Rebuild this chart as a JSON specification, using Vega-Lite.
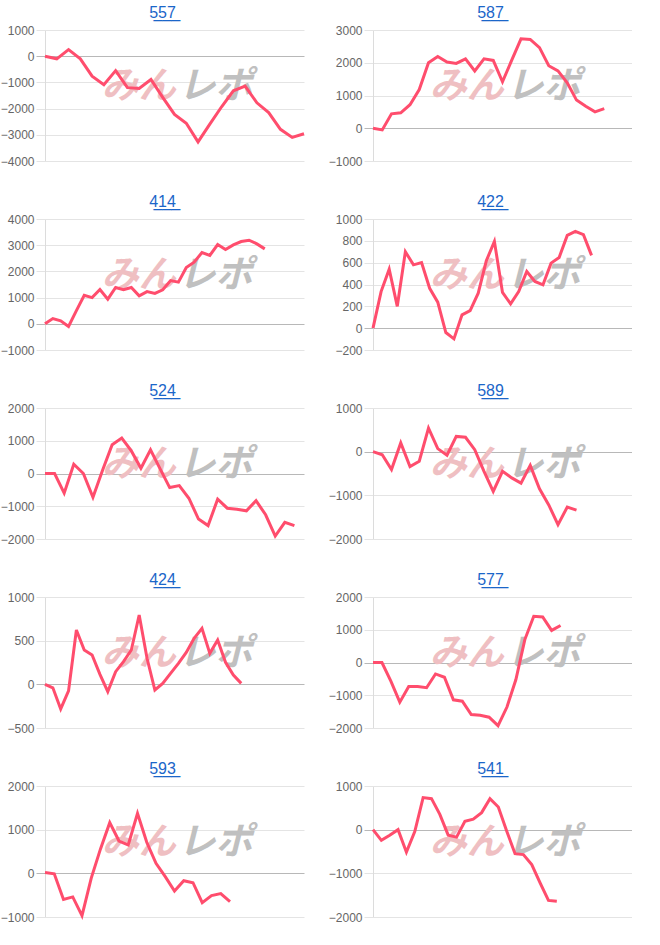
{
  "$schema": "https://vega.github.io/schema/vega-lite/v6.json",
  "padding": {"left": 0, "top": 5, "right": 0, "bottom": 0},
  "background": "white",
  "datasets": {
    "c557": [{"i":0,"v":0},{"i":1,"v":-100},{"i":2,"v":250},{"i":3,"v":-100},{"i":4,"v":-760},{"i":5,"v":-1090},{"i":6,"v":-550},{"i":7,"v":-1200},{"i":8,"v":-1230},{"i":9,"v":-890},{"i":10,"v":-1570},{"i":11,"v":-2220},{"i":12,"v":-2560},{"i":13,"v":-3270},{"i":14,"v":-2590},{"i":15,"v":-1930},{"i":16,"v":-1320},{"i":17,"v":-1140},{"i":18,"v":-1780},{"i":19,"v":-2150},{"i":20,"v":-2790},{"i":21,"v":-3100},{"i":22,"v":-2960}],
    "c587": [{"i":0,"v":0},{"i":1,"v":-50},{"i":2,"v":440},{"i":3,"v":470},{"i":4,"v":720},{"i":5,"v":1180},{"i":6,"v":2000},{"i":7,"v":2190},{"i":8,"v":2020},{"i":9,"v":1980},{"i":10,"v":2120},{"i":11,"v":1750},{"i":12,"v":2120},{"i":13,"v":2070},{"i":14,"v":1420},{"i":15,"v":2080},{"i":16,"v":2730},{"i":17,"v":2710},{"i":18,"v":2460},{"i":19,"v":1910},{"i":20,"v":1750},{"i":21,"v":1390},{"i":22,"v":860},{"i":23,"v":670},{"i":24,"v":500},{"i":25,"v":600}],
    "c414": [{"i":0,"v":0},{"i":1,"v":200},{"i":2,"v":115},{"i":3,"v":-100},{"i":4,"v":500},{"i":5,"v":1090},{"i":6,"v":1000},{"i":7,"v":1310},{"i":8,"v":940},{"i":9,"v":1385},{"i":10,"v":1300},{"i":11,"v":1385},{"i":12,"v":1070},{"i":13,"v":1230},{"i":14,"v":1160},{"i":15,"v":1300},{"i":16,"v":1650},{"i":17,"v":1590},{"i":18,"v":2150},{"i":19,"v":2350},{"i":20,"v":2720},{"i":21,"v":2610},{"i":22,"v":3025},{"i":23,"v":2835},{"i":24,"v":3010},{"i":25,"v":3140},{"i":26,"v":3190},{"i":27,"v":3050},{"i":28,"v":2860}],
    "c422": [{"i":0,"v":0},{"i":1,"v":335},{"i":2,"v":540},{"i":3,"v":200},{"i":4,"v":700},{"i":5,"v":580},{"i":6,"v":600},{"i":7,"v":365},{"i":8,"v":238},{"i":9,"v":-40},{"i":10,"v":-98},{"i":11,"v":122},{"i":12,"v":160},{"i":13,"v":320},{"i":14,"v":617},{"i":15,"v":795},{"i":16,"v":327},{"i":17,"v":223},{"i":18,"v":336},{"i":19,"v":519},{"i":20,"v":428},{"i":21,"v":397},{"i":22,"v":596},{"i":23,"v":648},{"i":24,"v":850},{"i":25,"v":887},{"i":26,"v":857},{"i":27,"v":667}],
    "c524": [{"i":0,"v":0},{"i":1,"v":0},{"i":2,"v":-600},{"i":3,"v":285},{"i":4,"v":0},{"i":5,"v":-725},{"i":6,"v":100},{"i":7,"v":880},{"i":8,"v":1080},{"i":9,"v":690},{"i":10,"v":160},{"i":11,"v":725},{"i":12,"v":140},{"i":13,"v":-430},{"i":14,"v":-370},{"i":15,"v":-755},{"i":16,"v":-1390},{"i":17,"v":-1590},{"i":18,"v":-785},{"i":19,"v":-1060},{"i":20,"v":-1090},{"i":21,"v":-1140},{"i":22,"v":-830},{"i":23,"v":-1260},{"i":24,"v":-1910},{"i":25,"v":-1490},{"i":26,"v":-1590}],
    "c589": [{"i":0,"v":0},{"i":1,"v":-70},{"i":2,"v":-410},{"i":3,"v":200},{"i":4,"v":-340},{"i":5,"v":-220},{"i":6,"v":540},{"i":7,"v":70},{"i":8,"v":-80},{"i":9,"v":350},{"i":10,"v":330},{"i":11,"v":45},{"i":12,"v":-450},{"i":13,"v":-910},{"i":14,"v":-450},{"i":15,"v":-600},{"i":16,"v":-720},{"i":17,"v":-315},{"i":18,"v":-850},{"i":19,"v":-1220},{"i":20,"v":-1670},{"i":21,"v":-1270},{"i":22,"v":-1340}],
    "c424": [{"i":0,"v":0},{"i":1,"v":-40},{"i":2,"v":-282},{"i":3,"v":-76},{"i":4,"v":622},{"i":5,"v":393},{"i":6,"v":336},{"i":7,"v":115},{"i":8,"v":-84},{"i":9,"v":145},{"i":10,"v":260},{"i":11,"v":393},{"i":12,"v":794},{"i":13,"v":298},{"i":14,"v":-65},{"i":15,"v":11},{"i":16,"v":126},{"i":17,"v":240},{"i":18,"v":366},{"i":19,"v":527},{"i":20,"v":641},{"i":21,"v":355},{"i":22,"v":508},{"i":23,"v":252},{"i":24,"v":107},{"i":25,"v":11}],
    "c577": [{"i":0,"v":0},{"i":1,"v":0},{"i":2,"v":-570},{"i":3,"v":-1210},{"i":4,"v":-730},{"i":5,"v":-730},{"i":6,"v":-770},{"i":7,"v":-350},{"i":8,"v":-450},{"i":9,"v":-1140},{"i":10,"v":-1180},{"i":11,"v":-1590},{"i":12,"v":-1610},{"i":13,"v":-1670},{"i":14,"v":-1930},{"i":15,"v":-1360},{"i":16,"v":-520},{"i":17,"v":700},{"i":18,"v":1410},{"i":19,"v":1390},{"i":20,"v":980},{"i":21,"v":1130}],
    "c593": [{"i":0,"v":20},{"i":1,"v":-10},{"i":2,"v":-600},{"i":3,"v":-540},{"i":4,"v":-970},{"i":5,"v":-110},{"i":6,"v":560},{"i":7,"v":1160},{"i":8,"v":740},{"i":9,"v":650},{"i":10,"v":1375},{"i":11,"v":710},{"i":12,"v":230},{"i":13,"v":-75},{"i":14,"v":-405},{"i":15,"v":-170},{"i":16,"v":-215},{"i":17,"v":-670},{"i":18,"v":-510},{"i":19,"v":-465},{"i":20,"v":-650}],
    "c541": [{"i":0,"v":0},{"i":1,"v":-245},{"i":2,"v":-130},{"i":3,"v":0},{"i":4,"v":-515},{"i":5,"v":-45},{"i":6,"v":735},{"i":7,"v":710},{"i":8,"v":350},{"i":9,"v":-125},{"i":10,"v":-170},{"i":11,"v":190},{"i":12,"v":240},{"i":13,"v":390},{"i":14,"v":710},{"i":15,"v":520},{"i":16,"v":-30},{"i":17,"v":-550},{"i":18,"v":-570},{"i":19,"v":-800},{"i":20,"v":-1220},{"i":21,"v":-1620},{"i":22,"v":-1640}],
    "wm": [{}]
  },
  "columns": 2,
  "spacing": {"row": 27, "column": 18},
  "concat": [
    {"title": "5\u03325\u03327\u0332", "width": 259, "height": 131, "resolve": {"scale": {"x": "independent", "y": "independent"}},
     "layer": [
      {"data": {"name": "wm"}, "mark": {"type": "text", "text": "みん", "align": "right", "baseline": "middle", "font": "Noto Sans CJK JP", "fontSize": 37, "fontWeight": "bold", "fontStyle": "italic", "color": "#efbfc2"}, "encoding": {"x": {"datum": 0.505, "type": "quantitative", "scale": {"domain": [0, 1]}, "axis": null}, "y": {"datum": 0.565, "type": "quantitative", "scale": {"domain": [0, 1]}, "axis": null}}},
      {"data": {"name": "wm"}, "mark": {"type": "text", "text": "レポ", "align": "left", "baseline": "middle", "font": "Noto Sans CJK JP", "fontSize": 37, "fontWeight": "bold", "fontStyle": "italic", "color": "#c0c0c0"}, "encoding": {"x": {"datum": 0.515, "type": "quantitative", "scale": {"domain": [0, 1]}, "axis": null}, "y": {"datum": 0.565, "type": "quantitative", "scale": {"domain": [0, 1]}, "axis": null}}},
      {"data": {"name": "c557"}, "mark": {"type": "line", "color": "#ff4d6d", "strokeWidth": 3}, "encoding": {"x": {"field": "i", "type": "quantitative", "scale": {"domain": [0, 22]}, "axis": null}, "y": {"field": "v", "type": "quantitative", "scale": {"domain": [-4000, 1000], "nice": false}, "axis": {"values": [-4000, -3000, -2000, -1000, 0, 1000], "format": "d", "grid": true, "gridColor": {"condition": {"test": "datum.value === 0", "value": "#b8b8b8"}, "value": "#e4e4e4"}, "tickColor": {"condition": {"test": "datum.value === 0", "value": "#b8b8b8"}, "value": "#e4e4e4"}}}}}
     ]},
    {"title": "5\u03328\u03327\u0332", "width": 259, "height": 131, "resolve": {"scale": {"x": "independent", "y": "independent"}},
     "layer": [
      {"data": {"name": "wm"}, "mark": {"type": "text", "text": "みん", "align": "right", "baseline": "middle", "font": "Noto Sans CJK JP", "fontSize": 37, "fontWeight": "bold", "fontStyle": "italic", "color": "#efbfc2"}, "encoding": {"x": {"datum": 0.505, "type": "quantitative", "scale": {"domain": [0, 1]}, "axis": null}, "y": {"datum": 0.565, "type": "quantitative", "scale": {"domain": [0, 1]}, "axis": null}}},
      {"data": {"name": "wm"}, "mark": {"type": "text", "text": "レポ", "align": "left", "baseline": "middle", "font": "Noto Sans CJK JP", "fontSize": 37, "fontWeight": "bold", "fontStyle": "italic", "color": "#c0c0c0"}, "encoding": {"x": {"datum": 0.515, "type": "quantitative", "scale": {"domain": [0, 1]}, "axis": null}, "y": {"datum": 0.565, "type": "quantitative", "scale": {"domain": [0, 1]}, "axis": null}}},
      {"data": {"name": "c587"}, "mark": {"type": "line", "color": "#ff4d6d", "strokeWidth": 3}, "encoding": {"x": {"field": "i", "type": "quantitative", "scale": {"domain": [0, 28]}, "axis": null}, "y": {"field": "v", "type": "quantitative", "scale": {"domain": [-1000, 3000], "nice": false}, "axis": {"values": [-1000, 0, 1000, 2000, 3000], "format": "d", "grid": true, "gridColor": {"condition": {"test": "datum.value === 0", "value": "#b8b8b8"}, "value": "#e4e4e4"}, "tickColor": {"condition": {"test": "datum.value === 0", "value": "#b8b8b8"}, "value": "#e4e4e4"}}}}}
     ]},
    {"title": "4\u03321\u03324\u0332", "width": 259, "height": 131, "resolve": {"scale": {"x": "independent", "y": "independent"}},
     "layer": [
      {"data": {"name": "wm"}, "mark": {"type": "text", "text": "みん", "align": "right", "baseline": "middle", "font": "Noto Sans CJK JP", "fontSize": 37, "fontWeight": "bold", "fontStyle": "italic", "color": "#efbfc2"}, "encoding": {"x": {"datum": 0.505, "type": "quantitative", "scale": {"domain": [0, 1]}, "axis": null}, "y": {"datum": 0.565, "type": "quantitative", "scale": {"domain": [0, 1]}, "axis": null}}},
      {"data": {"name": "wm"}, "mark": {"type": "text", "text": "レポ", "align": "left", "baseline": "middle", "font": "Noto Sans CJK JP", "fontSize": 37, "fontWeight": "bold", "fontStyle": "italic", "color": "#c0c0c0"}, "encoding": {"x": {"datum": 0.515, "type": "quantitative", "scale": {"domain": [0, 1]}, "axis": null}, "y": {"datum": 0.565, "type": "quantitative", "scale": {"domain": [0, 1]}, "axis": null}}},
      {"data": {"name": "c414"}, "mark": {"type": "line", "color": "#ff4d6d", "strokeWidth": 3}, "encoding": {"x": {"field": "i", "type": "quantitative", "scale": {"domain": [0, 33]}, "axis": null}, "y": {"field": "v", "type": "quantitative", "scale": {"domain": [-1000, 4000], "nice": false}, "axis": {"values": [-1000, 0, 1000, 2000, 3000, 4000], "format": "d", "grid": true, "gridColor": {"condition": {"test": "datum.value === 0", "value": "#b8b8b8"}, "value": "#e4e4e4"}, "tickColor": {"condition": {"test": "datum.value === 0", "value": "#b8b8b8"}, "value": "#e4e4e4"}}}}}
     ]},
    {"title": "4\u03322\u03322\u0332", "width": 259, "height": 131, "resolve": {"scale": {"x": "independent", "y": "independent"}},
     "layer": [
      {"data": {"name": "wm"}, "mark": {"type": "text", "text": "みん", "align": "right", "baseline": "middle", "font": "Noto Sans CJK JP", "fontSize": 37, "fontWeight": "bold", "fontStyle": "italic", "color": "#efbfc2"}, "encoding": {"x": {"datum": 0.505, "type": "quantitative", "scale": {"domain": [0, 1]}, "axis": null}, "y": {"datum": 0.565, "type": "quantitative", "scale": {"domain": [0, 1]}, "axis": null}}},
      {"data": {"name": "wm"}, "mark": {"type": "text", "text": "レポ", "align": "left", "baseline": "middle", "font": "Noto Sans CJK JP", "fontSize": 37, "fontWeight": "bold", "fontStyle": "italic", "color": "#c0c0c0"}, "encoding": {"x": {"datum": 0.515, "type": "quantitative", "scale": {"domain": [0, 1]}, "axis": null}, "y": {"datum": 0.565, "type": "quantitative", "scale": {"domain": [0, 1]}, "axis": null}}},
      {"data": {"name": "c422"}, "mark": {"type": "line", "color": "#ff4d6d", "strokeWidth": 3}, "encoding": {"x": {"field": "i", "type": "quantitative", "scale": {"domain": [0, 32]}, "axis": null}, "y": {"field": "v", "type": "quantitative", "scale": {"domain": [-200, 1000], "nice": false}, "axis": {"values": [-200, 0, 200, 400, 600, 800, 1000], "format": "d", "grid": true, "gridColor": {"condition": {"test": "datum.value === 0", "value": "#b8b8b8"}, "value": "#e4e4e4"}, "tickColor": {"condition": {"test": "datum.value === 0", "value": "#b8b8b8"}, "value": "#e4e4e4"}}}}}
     ]},
    {"title": "5\u03322\u03324\u0332", "width": 259, "height": 131, "resolve": {"scale": {"x": "independent", "y": "independent"}},
     "layer": [
      {"data": {"name": "wm"}, "mark": {"type": "text", "text": "みん", "align": "right", "baseline": "middle", "font": "Noto Sans CJK JP", "fontSize": 37, "fontWeight": "bold", "fontStyle": "italic", "color": "#efbfc2"}, "encoding": {"x": {"datum": 0.505, "type": "quantitative", "scale": {"domain": [0, 1]}, "axis": null}, "y": {"datum": 0.565, "type": "quantitative", "scale": {"domain": [0, 1]}, "axis": null}}},
      {"data": {"name": "wm"}, "mark": {"type": "text", "text": "レポ", "align": "left", "baseline": "middle", "font": "Noto Sans CJK JP", "fontSize": 37, "fontWeight": "bold", "fontStyle": "italic", "color": "#c0c0c0"}, "encoding": {"x": {"datum": 0.515, "type": "quantitative", "scale": {"domain": [0, 1]}, "axis": null}, "y": {"datum": 0.565, "type": "quantitative", "scale": {"domain": [0, 1]}, "axis": null}}},
      {"data": {"name": "c524"}, "mark": {"type": "line", "color": "#ff4d6d", "strokeWidth": 3}, "encoding": {"x": {"field": "i", "type": "quantitative", "scale": {"domain": [0, 27]}, "axis": null}, "y": {"field": "v", "type": "quantitative", "scale": {"domain": [-2000, 2000], "nice": false}, "axis": {"values": [-2000, -1000, 0, 1000, 2000], "format": "d", "grid": true, "gridColor": {"condition": {"test": "datum.value === 0", "value": "#b8b8b8"}, "value": "#e4e4e4"}, "tickColor": {"condition": {"test": "datum.value === 0", "value": "#b8b8b8"}, "value": "#e4e4e4"}}}}}
     ]},
    {"title": "5\u03328\u03329\u0332", "width": 259, "height": 131, "resolve": {"scale": {"x": "independent", "y": "independent"}},
     "layer": [
      {"data": {"name": "wm"}, "mark": {"type": "text", "text": "みん", "align": "right", "baseline": "middle", "font": "Noto Sans CJK JP", "fontSize": 37, "fontWeight": "bold", "fontStyle": "italic", "color": "#efbfc2"}, "encoding": {"x": {"datum": 0.505, "type": "quantitative", "scale": {"domain": [0, 1]}, "axis": null}, "y": {"datum": 0.565, "type": "quantitative", "scale": {"domain": [0, 1]}, "axis": null}}},
      {"data": {"name": "wm"}, "mark": {"type": "text", "text": "レポ", "align": "left", "baseline": "middle", "font": "Noto Sans CJK JP", "fontSize": 37, "fontWeight": "bold", "fontStyle": "italic", "color": "#c0c0c0"}, "encoding": {"x": {"datum": 0.515, "type": "quantitative", "scale": {"domain": [0, 1]}, "axis": null}, "y": {"datum": 0.565, "type": "quantitative", "scale": {"domain": [0, 1]}, "axis": null}}},
      {"data": {"name": "c589"}, "mark": {"type": "line", "color": "#ff4d6d", "strokeWidth": 3}, "encoding": {"x": {"field": "i", "type": "quantitative", "scale": {"domain": [0, 28]}, "axis": null}, "y": {"field": "v", "type": "quantitative", "scale": {"domain": [-2000, 1000], "nice": false}, "axis": {"values": [-2000, -1000, 0, 1000], "format": "d", "grid": true, "gridColor": {"condition": {"test": "datum.value === 0", "value": "#b8b8b8"}, "value": "#e4e4e4"}, "tickColor": {"condition": {"test": "datum.value === 0", "value": "#b8b8b8"}, "value": "#e4e4e4"}}}}}
     ]},
    {"title": "4\u03322\u03324\u0332", "width": 259, "height": 131, "resolve": {"scale": {"x": "independent", "y": "independent"}},
     "layer": [
      {"data": {"name": "wm"}, "mark": {"type": "text", "text": "みん", "align": "right", "baseline": "middle", "font": "Noto Sans CJK JP", "fontSize": 37, "fontWeight": "bold", "fontStyle": "italic", "color": "#efbfc2"}, "encoding": {"x": {"datum": 0.505, "type": "quantitative", "scale": {"domain": [0, 1]}, "axis": null}, "y": {"datum": 0.565, "type": "quantitative", "scale": {"domain": [0, 1]}, "axis": null}}},
      {"data": {"name": "wm"}, "mark": {"type": "text", "text": "レポ", "align": "left", "baseline": "middle", "font": "Noto Sans CJK JP", "fontSize": 37, "fontWeight": "bold", "fontStyle": "italic", "color": "#c0c0c0"}, "encoding": {"x": {"datum": 0.515, "type": "quantitative", "scale": {"domain": [0, 1]}, "axis": null}, "y": {"datum": 0.565, "type": "quantitative", "scale": {"domain": [0, 1]}, "axis": null}}},
      {"data": {"name": "c424"}, "mark": {"type": "line", "color": "#ff4d6d", "strokeWidth": 3}, "encoding": {"x": {"field": "i", "type": "quantitative", "scale": {"domain": [0, 33]}, "axis": null}, "y": {"field": "v", "type": "quantitative", "scale": {"domain": [-500, 1000], "nice": false}, "axis": {"values": [-500, 0, 500, 1000], "format": "d", "grid": true, "gridColor": {"condition": {"test": "datum.value === 0", "value": "#b8b8b8"}, "value": "#e4e4e4"}, "tickColor": {"condition": {"test": "datum.value === 0", "value": "#b8b8b8"}, "value": "#e4e4e4"}}}}}
     ]},
    {"title": "5\u03327\u03327\u0332", "width": 259, "height": 131, "resolve": {"scale": {"x": "independent", "y": "independent"}},
     "layer": [
      {"data": {"name": "wm"}, "mark": {"type": "text", "text": "みん", "align": "right", "baseline": "middle", "font": "Noto Sans CJK JP", "fontSize": 37, "fontWeight": "bold", "fontStyle": "italic", "color": "#efbfc2"}, "encoding": {"x": {"datum": 0.505, "type": "quantitative", "scale": {"domain": [0, 1]}, "axis": null}, "y": {"datum": 0.565, "type": "quantitative", "scale": {"domain": [0, 1]}, "axis": null}}},
      {"data": {"name": "wm"}, "mark": {"type": "text", "text": "レポ", "align": "left", "baseline": "middle", "font": "Noto Sans CJK JP", "fontSize": 37, "fontWeight": "bold", "fontStyle": "italic", "color": "#c0c0c0"}, "encoding": {"x": {"datum": 0.515, "type": "quantitative", "scale": {"domain": [0, 1]}, "axis": null}, "y": {"datum": 0.565, "type": "quantitative", "scale": {"domain": [0, 1]}, "axis": null}}},
      {"data": {"name": "c577"}, "mark": {"type": "line", "color": "#ff4d6d", "strokeWidth": 3}, "encoding": {"x": {"field": "i", "type": "quantitative", "scale": {"domain": [0, 29]}, "axis": null}, "y": {"field": "v", "type": "quantitative", "scale": {"domain": [-2000, 2000], "nice": false}, "axis": {"values": [-2000, -1000, 0, 1000, 2000], "format": "d", "grid": true, "gridColor": {"condition": {"test": "datum.value === 0", "value": "#b8b8b8"}, "value": "#e4e4e4"}, "tickColor": {"condition": {"test": "datum.value === 0", "value": "#b8b8b8"}, "value": "#e4e4e4"}}}}}
     ]},
    {"title": "5\u03329\u03323\u0332", "width": 259, "height": 131, "resolve": {"scale": {"x": "independent", "y": "independent"}},
     "layer": [
      {"data": {"name": "wm"}, "mark": {"type": "text", "text": "みん", "align": "right", "baseline": "middle", "font": "Noto Sans CJK JP", "fontSize": 37, "fontWeight": "bold", "fontStyle": "italic", "color": "#efbfc2"}, "encoding": {"x": {"datum": 0.505, "type": "quantitative", "scale": {"domain": [0, 1]}, "axis": null}, "y": {"datum": 0.565, "type": "quantitative", "scale": {"domain": [0, 1]}, "axis": null}}},
      {"data": {"name": "wm"}, "mark": {"type": "text", "text": "レポ", "align": "left", "baseline": "middle", "font": "Noto Sans CJK JP", "fontSize": 37, "fontWeight": "bold", "fontStyle": "italic", "color": "#c0c0c0"}, "encoding": {"x": {"datum": 0.515, "type": "quantitative", "scale": {"domain": [0, 1]}, "axis": null}, "y": {"datum": 0.565, "type": "quantitative", "scale": {"domain": [0, 1]}, "axis": null}}},
      {"data": {"name": "c593"}, "mark": {"type": "line", "color": "#ff4d6d", "strokeWidth": 3}, "encoding": {"x": {"field": "i", "type": "quantitative", "scale": {"domain": [0, 28]}, "axis": null}, "y": {"field": "v", "type": "quantitative", "scale": {"domain": [-1000, 2000], "nice": false}, "axis": {"values": [-1000, 0, 1000, 2000], "format": "d", "grid": true, "gridColor": {"condition": {"test": "datum.value === 0", "value": "#b8b8b8"}, "value": "#e4e4e4"}, "tickColor": {"condition": {"test": "datum.value === 0", "value": "#b8b8b8"}, "value": "#e4e4e4"}}}}}
     ]},
    {"title": "5\u03324\u03321\u0332", "width": 259, "height": 131, "resolve": {"scale": {"x": "independent", "y": "independent"}},
     "layer": [
      {"data": {"name": "wm"}, "mark": {"type": "text", "text": "みん", "align": "right", "baseline": "middle", "font": "Noto Sans CJK JP", "fontSize": 37, "fontWeight": "bold", "fontStyle": "italic", "color": "#efbfc2"}, "encoding": {"x": {"datum": 0.505, "type": "quantitative", "scale": {"domain": [0, 1]}, "axis": null}, "y": {"datum": 0.565, "type": "quantitative", "scale": {"domain": [0, 1]}, "axis": null}}},
      {"data": {"name": "wm"}, "mark": {"type": "text", "text": "レポ", "align": "left", "baseline": "middle", "font": "Noto Sans CJK JP", "fontSize": 37, "fontWeight": "bold", "fontStyle": "italic", "color": "#c0c0c0"}, "encoding": {"x": {"datum": 0.515, "type": "quantitative", "scale": {"domain": [0, 1]}, "axis": null}, "y": {"datum": 0.565, "type": "quantitative", "scale": {"domain": [0, 1]}, "axis": null}}},
      {"data": {"name": "c541"}, "mark": {"type": "line", "color": "#ff4d6d", "strokeWidth": 3}, "encoding": {"x": {"field": "i", "type": "quantitative", "scale": {"domain": [0, 31]}, "axis": null}, "y": {"field": "v", "type": "quantitative", "scale": {"domain": [-2000, 1000], "nice": false}, "axis": {"values": [-2000, -1000, 0, 1000], "format": "d", "grid": true, "gridColor": {"condition": {"test": "datum.value === 0", "value": "#b8b8b8"}, "value": "#e4e4e4"}, "tickColor": {"condition": {"test": "datum.value === 0", "value": "#b8b8b8"}, "value": "#e4e4e4"}}}}}
     ]}
  ],
  "config": {
    "view": {"stroke": null},
    "title": {"font": "Liberation Sans", "fontSize": 16, "fontWeight": "normal", "color": "#1b66c9", "offset": 3, "dx": -12, "frame": "group", "anchor": "middle"},
    "axisY": {
      "title": null,
      "domain": true,
      "domainColor": "#dcdcdc",
      "tickSize": 9,
      "labelPadding": 2,
      "labelFont": "Liberation Sans",
      "labelFontSize": 12,
      "labelColor": "#666666",
      "labelBound": false
    }
  }
}
